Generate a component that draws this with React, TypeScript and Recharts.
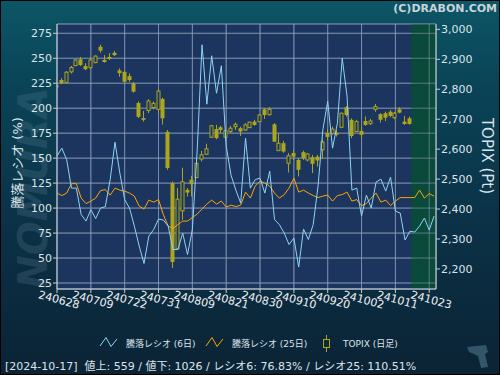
import React from 'react';
import { ComposedChart, Bar, Line, XAxis, YAxis, CartesianGrid, ReferenceArea } from 'recharts';

// x-axis tick labels (trading-day index -> date label)
const dateLabels = ['240628', '240709', '240722', '240731', '240809', '240821', '240830', '240910', '240920', '241002', '241011', '241023'];
const labelIndex = [0, 7, 14, 21, 28, 35, 42, 49, 56, 63, 70, 77];

// TOPIX daily candles (index 0 = 2024-06-28 ... 73 = 2024-10-17)
const topixOpen = [2814, 2831, 2823, 2858, 2879, 2900, 2878, 2872, 2889, 2942, 2898, 2908, 2922, 2863, 2858, 2844, 2820, 2754, 2704, 2729, 2739, 2733, 2768, 2658, 2487, 2267, 2394, 2464, 2498, 2505, 2567, 2583, 2640, 2667, 2673, 2640, 2659, 2675, 2670, 2664, 2672, 2692, 2692, 2733, 2715, 2683, 2595, 2620, 2553, 2587, 2564, 2590, 2564, 2573, 2575, 2598, 2654, 2653, 2655, 2673, 2740, 2698, 2659, 2661, 2694, 2685, 2733, 2717, 2720, 2725, 2705, 2733, 2692, 2703];
const topixHigh = [2819, 2837, 2861, 2878, 2901, 2908, 2887, 2907, 2913, 2949, 2914, 2921, 2928, 2870, 2861, 2853, 2824, 2759, 2728, 2767, 2759, 2801, 2772, 2664, 2492, 2470, 2538, 2470, 2511, 2570, 2594, 2618, 2681, 2681, 2678, 2664, 2678, 2689, 2675, 2687, 2692, 2698, 2717, 2737, 2740, 2687, 2653, 2628, 2587, 2598, 2570, 2595, 2587, 2581, 2581, 2633, 2667, 2675, 2664, 2722, 2744, 2703, 2698, 2675, 2709, 2701, 2751, 2720, 2725, 2731, 2724, 2740, 2711, 2709];
const topixLow = [2803, 2817, 2820, 2853, 2878, 2878, 2864, 2869, 2887, 2922, 2889, 2898, 2911, 2842, 2822, 2825, 2789, 2704, 2692, 2720, 2733, 2720, 2682, 2531, 2203, 2264, 2364, 2442, 2442, 2505, 2559, 2581, 2637, 2633, 2653, 2629, 2653, 2664, 2644, 2661, 2670, 2678, 2691, 2701, 2712, 2625, 2595, 2588, 2522, 2564, 2509, 2564, 2559, 2520, 2542, 2567, 2631, 2648, 2642, 2670, 2709, 2637, 2658, 2637, 2678, 2681, 2725, 2689, 2694, 2707, 2700, 2720, 2681, 2682];
const topixClose = [2806, 2820, 2857, 2873, 2898, 2881, 2867, 2898, 2911, 2929, 2891, 2901, 2914, 2854, 2825, 2831, 2792, 2708, 2698, 2761, 2753, 2794, 2703, 2537, 2223, 2433, 2491, 2455, 2483, 2553, 2581, 2601, 2678, 2637, 2664, 2662, 2670, 2683, 2659, 2681, 2690, 2681, 2714, 2714, 2733, 2625, 2620, 2592, 2578, 2575, 2531, 2570, 2584, 2551, 2562, 2624, 2641, 2667, 2648, 2720, 2714, 2644, 2692, 2648, 2681, 2694, 2742, 2698, 2705, 2711, 2720, 2722, 2684, 2684];

// Advance/decline ratios (%)
const ratio6 = [152, 160, 148.5, 120, 120, 93.5, 87, 98.5, 89.5, 100, 101.5, 128.5, 166, 135, 108.5, 100, 82, 62, 44.5, 72, 78.5, 89, 88, 82, 58.5, 58.5, 75, 53.5, 78.5, 158, 263.5, 204, 252.5, 215, 242.5, 162, 133, 118, 105, 170, 120, 128.5, 130, 115, 137, 88.5, 83.5, 75, 63.5, 70, 41, 79, 68.5, 83.5, 122, 178.5, 207, 160, 185, 250, 212, 118, 120, 92, 113, 100, 126, 129, 117, 131, 97, 95, 68, 76.83, 76, 82, 90, 78, 92];
const ratio25 = [115, 112.5, 115, 124.5, 124.5, 110, 104.5, 107, 110, 117.5, 118.5, 113, 120, 118, 117, 115, 112, 102, 99, 108, 106, 108.5, 93.5, 82, 79.5, 83.5, 87, 87, 90.5, 94, 99, 104, 108, 104, 107, 101, 103, 101.5, 103, 116, 110, 122, 127, 125, 122, 115, 110, 113.5, 120, 130, 116, 118, 115, 112.5, 110.5, 112, 113, 107, 112.5, 113.5, 116, 107, 108.5, 102.5, 104.5, 110, 115, 106, 108, 102.5, 107, 110.5, 110.5, 110.51, 110.5, 118, 110, 114.5, 112];

const leftTicks = [25, 50, 75, 100, 125, 150, 175, 200, 225, 250, 275];
const rightTicks = [2200, 2300, 2400, 2500, 2600, 2700, 2800, 2900, 3000];

const FONT = "'DejaVu Sans', 'Noto Sans CJK JP', sans-serif";
const CANDLE = '#aca61c';
const PLOT_BG = '#1b355f';
const BLUE = '#8fd3f4';
const ORANGE = '#ffa500';
const AXIS = '#c4ccd6';
const TEXT = '#dde3ea';

const data = ratio6.map((v, i) => ({
  i,
  r6: v,
  r25: ratio25[i],
  o: topixOpen[i],
  h: topixHigh[i],
  l: topixLow[i],
  c: topixClose[i],
  range: topixOpen[i] != null ? [topixLow[i], topixHigh[i]] : null,
}));

const Candle = (props: any) => {
  const { x, y, width, height, payload } = props;
  if (!payload || payload.o == null || x == null) return null;
  const { o, h, l, c } = payload;
  const top = Math.min(y, y + height);
  const bot = Math.max(y, y + height);
  const k = h === l ? 0 : (bot - top) / (h - l);
  const cx = Math.floor(x + width / 2) + 0.5;
  const yO = top + (h - o) * k;
  const yC = top + (h - c) * k;
  const bTop = Math.min(yO, yC);
  const bBot = Math.max(yO, yC);
  const up = c > o;
  return (
    <g>
      <line x1={cx} x2={cx} y1={top} y2={bot} stroke={CANDLE} strokeWidth={1} />
      {up ? (
        <rect x={cx - 1.5} y={bTop} width={3} height={Math.max(bBot - bTop, 1)} fill={PLOT_BG} stroke={CANDLE} strokeWidth={1} />
      ) : (
        <rect x={cx - 2} y={bTop} width={4} height={Math.max(bBot - bTop, 1.5)} fill={CANDLE} />
      )}
    </g>
  );
};

const XTick = (props: any) => {
  const { x, y, payload } = props;
  const k = labelIndex.indexOf(payload.value);
  const label = k >= 0 ? dateLabels[k] : '';
  const tx = x + 2;
  const ty = y + 5;
  return (
    <text x={tx} y={ty} transform={`rotate(15 ${tx} ${ty})`} textAnchor="middle" dominantBaseline="central"
      fill="#eef0f4" fontSize={11} fontFamily={FONT}>
      {label}
    </text>
  );
};

export default function App() {
  return (
    <div style={{ position: 'relative', width: 500, height: 375, overflow: 'hidden',
      background: 'linear-gradient(180deg, #0c5666 0%, #0a4457 22%, #0b3247 58%, #0b2335 100%)' }}>
      <style>{`body{margin:0;}`}</style>
      <svg width={500} height={375} style={{ position: 'absolute', left: 0, top: 0 }}>
        <text x={33} y={188} transform="rotate(-90 33 188)" textAnchor="middle" dominantBaseline="central"
          fontSize={40} fontWeight="bold" fontStyle="italic" fontFamily={FONT} fill="#6d8ca2" fillOpacity={0.22}>
          NOMURA
        </text>
      </svg>
      <div style={{ position: 'absolute', left: 0, top: 0 }}>
        <ComposedChart width={500} height={375} data={data} margin={{ top: 24, right: 0, bottom: 0, left: 0 }}>
          <CartesianGrid yAxisId="left" stroke="#8e9cb6" strokeOpacity={0.6} fill={PLOT_BG} fillOpacity={1} />
          <ReferenceArea yAxisId="left" x1={73.3} x2={78.4} y1={19} y2={284.3} fill="#0a4a3a" fillOpacity={1} stroke="none"
            ifOverflow="visible" zIndex={-90} />
          <CartesianGrid yAxisId="left" stroke="#8e9cb6" strokeOpacity={0.6} fill="none" zIndex={-80} />
          <XAxis dataKey="i" type="number" domain={[0, 78.4]} ticks={labelIndex} interval={0} allowDataOverflow
            height={86} tickSize={4} tick={<XTick />} axisLine={{ stroke: AXIS }} tickLine={{ stroke: AXIS }} />
          <YAxis yAxisId="left" orientation="left" width={57} domain={[19, 284.3]} ticks={leftTicks} allowDataOverflow
            interval={0} tickSize={4} tickMargin={1} axisLine={{ stroke: AXIS }} tickLine={{ stroke: AXIS }}
            tick={{ fill: TEXT, fontSize: 11, fontFamily: FONT }} />
          <YAxis yAxisId="right" orientation="right" width={64} domain={[2133, 3018]} ticks={rightTicks} allowDataOverflow
            interval={0} tickSize={4} tickMargin={1} axisLine={{ stroke: AXIS }} tickLine={{ stroke: AXIS }}
            tickFormatter={(v: number) => v.toLocaleString('en-US')}
            tick={{ fill: TEXT, fontSize: 11, fontFamily: FONT }} />
          <Bar yAxisId="right" dataKey="range" barSize={4} shape={<Candle />} isAnimationActive={false} />
          <Line yAxisId="left" type="linear" dataKey="r25" stroke={ORANGE} strokeWidth={1} dot={false} activeDot={false} isAnimationActive={false} />
          <Line yAxisId="left" type="linear" dataKey="r6" stroke={BLUE} strokeWidth={1} dot={false} activeDot={false} isAnimationActive={false} />
        </ComposedChart>
      </div>
      <svg width={500} height={375} style={{ position: 'absolute', left: 0, top: 0, pointerEvents: 'none' }}>
        <text x={497} y={12} textAnchor="end" fontSize={11} fontWeight="bold" fontFamily={FONT} fill="#c9d3db">(C)DRABON.COM</text>
        <text x={17} y={163} transform="rotate(-90 17 163)" textAnchor="middle" dominantBaseline="central"
          fontSize={13} fontFamily={FONT} fill={TEXT}>騰落レシオ (%)</text>
        <text x={487} y={156} transform="rotate(90 487 156)" textAnchor="middle" dominantBaseline="central"
          fontSize={15} fontFamily={FONT} fill={TEXT}>TOPIX (Pt)</text>
        <polyline points="100,346 106,337.5 111,346.5 117,339" fill="none" stroke={BLUE} strokeWidth={1} />
        <text x={126} y={347} fontSize={9} fontFamily={FONT} fill={TEXT}>騰落レシオ (6日)</text>
        <polyline points="206,346 212,337.5 217,346.5 223,339" fill="none" stroke={ORANGE} strokeWidth={1} />
        <text x={232} y={347} fontSize={9} fontFamily={FONT} fill={TEXT}>騰落レシオ (25日)</text>
        <line x1={326.5} x2={326.5} y1={335} y2={352} stroke={CANDLE} strokeWidth={1} />
        <rect x={323.5} y={339.5} width={6} height={8} fill="#0b2a3c" stroke={CANDLE} strokeWidth={1} />
        <text x={343} y={347} fontSize={9} fontFamily={FONT} fill={TEXT}>TOPIX (日足)</text>
        <text x={5} y={369.5} fontSize={11} fontFamily={FONT} fill={TEXT} style={{ whiteSpace: 'pre' }}>
          {'[2024-10-17]  値上: 559 / 値下: 1026 / レシオ6: 76.83% / レシオ25: 110.51%'}
        </text>
        <path d="M467,347 L486,345 L488,352 L485,354 L488,367 L481,368 L478,356 L474,354 L469,352 Z" fill="#3c6275" fillOpacity={0.8} />
        <rect x={0.5} y={0.5} width={499} height={374} fill="none" stroke="#000" strokeWidth={1} />
      </svg>
    </div>
  );
}
